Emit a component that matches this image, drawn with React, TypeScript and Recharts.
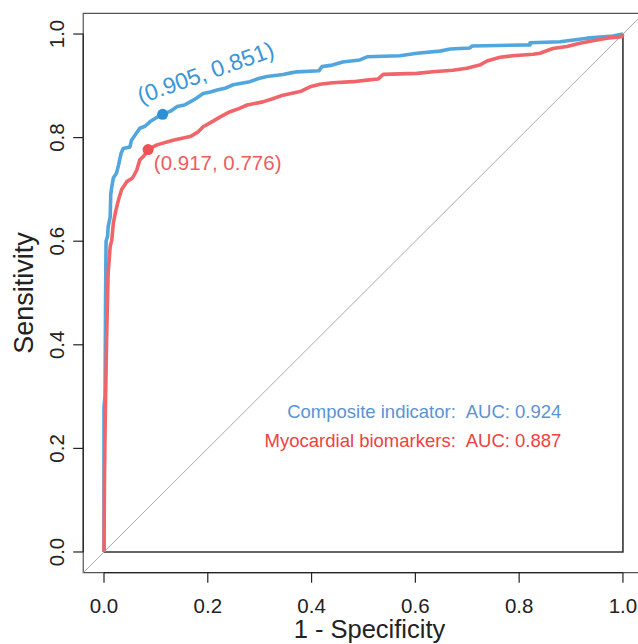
import React from "react";
import {
  ComposedChart,
  Line,
  XAxis,
  YAxis,
  ReferenceArea,
  ReferenceLine,
  ReferenceDot,
} from "recharts";

// ROC curve: [1 - specificity, sensitivity]
const compositeROC: [number, number][] = [
  [0, 0], [0, 0.28], [0.002, 0.3], [0.003, 0.49], [0.004, 0.6], [0.007, 0.61],
  [0.008, 0.628], [0.012, 0.647], [0.013, 0.69], [0.015, 0.705], [0.018, 0.722],
  [0.024, 0.731], [0.028, 0.747], [0.033, 0.77], [0.037, 0.779], [0.05, 0.782],
  [0.053, 0.795], [0.058, 0.802], [0.069, 0.818], [0.079, 0.822], [0.089, 0.831],
  [0.1, 0.838], [0.113, 0.845], [0.128, 0.851], [0.141, 0.86], [0.155, 0.863],
  [0.166, 0.869], [0.178, 0.876], [0.191, 0.885], [0.205, 0.888], [0.218, 0.892],
  [0.235, 0.896], [0.249, 0.902], [0.265, 0.905], [0.281, 0.908], [0.298, 0.914],
  [0.314, 0.918], [0.33, 0.92], [0.345, 0.922], [0.36, 0.925], [0.372, 0.927],
  [0.414, 0.929], [0.42, 0.937], [0.44, 0.94], [0.46, 0.946], [0.493, 0.95],
  [0.507, 0.956], [0.57, 0.958], [0.603, 0.963], [0.647, 0.967], [0.667, 0.971],
  [0.705, 0.973], [0.709, 0.977], [0.821, 0.979], [0.821, 0.983], [0.879, 0.985],
  [0.931, 0.992], [0.981, 0.996], [1, 1],
];

const biomarkerROC: [number, number][] = [
  [0, 0], [0.001, 0.15], [0.002, 0.23], [0.003, 0.293], [0.005, 0.409],
  [0.008, 0.539], [0.012, 0.59], [0.015, 0.602], [0.018, 0.635], [0.023, 0.66],
  [0.028, 0.68], [0.034, 0.7], [0.044, 0.715], [0.055, 0.722], [0.063, 0.737],
  [0.069, 0.757], [0.078, 0.766], [0.085, 0.777], [0.102, 0.786], [0.133, 0.795],
  [0.166, 0.802], [0.18, 0.81], [0.191, 0.821], [0.207, 0.83], [0.224, 0.84],
  [0.243, 0.85], [0.26, 0.856], [0.276, 0.863], [0.306, 0.869], [0.325, 0.875],
  [0.345, 0.882], [0.378, 0.889], [0.397, 0.898], [0.416, 0.903], [0.441, 0.906],
  [0.48, 0.908], [0.507, 0.911], [0.528, 0.913], [0.538, 0.922], [0.603, 0.924],
  [0.634, 0.927], [0.672, 0.93], [0.699, 0.934], [0.724, 0.94], [0.738, 0.948],
  [0.763, 0.955], [0.788, 0.958], [0.827, 0.961], [0.84, 0.963], [0.865, 0.972],
  [0.892, 0.976], [0.917, 0.982], [0.942, 0.987], [0.969, 0.992], [0.998, 0.995],
  [1, 1],
];

const optimalPoints = [
  { name: "Composite indicator", x: 0.113, y: 0.845, label: "(0.905, 0.851)" },
  { name: "Myocardial biomarkers", x: 0.085, y: 0.777, label: "(0.917, 0.776)" },
];
const aucLabels = ["Composite indicator:", "Myocardial biomarkers:"];
const aucValues = ["AUC: 0.924", "AUC: 0.887"];
const tickValues = [0, 0.2, 0.4, 0.6, 0.8, 1];
const diagonal = [
  { x: -0.04, y: -0.04 },
  { x: 1.04, y: 1.04 },
];
const frameL = [
  { x: 0, y: 0 },
  { x: 1, y: 0 },
  { x: 1, y: 1 },
];

const toRows = (arr: [number, number][]) => arr.map(([x, y]) => ({ x, y }));
const compositeData = toRows(compositeROC);
const biomarkerData = toRows(biomarkerROC);

const FONT = "'Liberation Sans', Arial, Helvetica, sans-serif";
const BLUE_LINE = "#52a6de";
const BLUE_DOT = "#2d8fd4";
const BLUE_TEXT = "#3a96d6";
const BLUE_LEG = "#5a93d4";
const RED_LINE = "#ef6569";
const RED_DOT = "#ee5254";
const RED_TEXT = "#ee5d5f";
const RED_LEG = "#ec4242";

const XTick = (props: any) => {
  const { x, payload } = props;
  return (
    <text x={x} y={613} textAnchor="middle" fontSize={20.5} fill="#222" fontFamily={FONT}>
      {Number(payload.value).toFixed(1)}
    </text>
  );
};

const YTick = (props: any) => {
  const { y, payload } = props;
  return (
    <text
      x={64}
      y={y}
      transform={`rotate(-90 64 ${y})`}
      textAnchor="middle"
      fontSize={20.5}
      fill="#222"
      fontFamily={FONT}
    >
      {Number(payload.value).toFixed(1)}
    </text>
  );
};

const textShape = (
  text: string,
  color: string,
  anchor: "start" | "end",
  size: number,
  rotate = 0
) => (p: any) => (
  <text
    x={p.cx}
    y={p.cy}
    textAnchor={anchor}
    fontSize={size}
    fill={color}
    fontFamily={FONT}
    transform={rotate ? `rotate(${rotate} ${p.cx} ${p.cy})` : undefined}
  >
    {text}
  </text>
);

export default function App() {
  return (
    <div
      style={{
        position: "fixed",
        left: 0,
        top: 0,
        width: 638,
        height: 644,
        overflow: "hidden",
        background: "#fff",
      }}
    >
      <ComposedChart
        width={700}
        height={644}
        margin={{ top: 13.3, right: 56.3, left: 0, bottom: 0 }}
      >
        <XAxis
          dataKey="x"
          type="number"
          domain={[-0.04, 1.04]}
          ticks={tickValues}
          allowDataOverflow
          axisLine={false}
          tickLine={{ stroke: "#222", strokeWidth: 1.2 }}
          tickSize={10}
          height={71.3}
          tick={<XTick />}
          interval={0}
          label={(p: any) => (
            <text
              x={p.viewBox.x + p.viewBox.width / 2 + 6}
              y={638}
              textAnchor="middle"
              fontSize={25.5}
              fill="#222"
              fontFamily={FONT}
            >
              1 - Specificity
            </text>
          )}
        />
        <YAxis
          dataKey="y"
          type="number"
          domain={[-0.04, 1.04]}
          ticks={tickValues}
          allowDataOverflow
          axisLine={false}
          tickLine={{ stroke: "#222", strokeWidth: 1.2 }}
          tickSize={10}
          width={83.24}
          tick={<YTick />}
          interval={0}
          label={(p: any) => {
            const cy = p.viewBox.y + p.viewBox.height / 2;
            return (
              <text
                x={33}
                y={cy}
                transform={`rotate(-90 33 ${cy})`}
                textAnchor="middle"
                fontSize={27}
                fill="#222"
                fontFamily={FONT}
              >
                Sensitivity
              </text>
            );
          }}
        />
        <ReferenceArea
          x1={-0.04}
          x2={1.04}
          y1={-0.04}
          y2={1.04}
          fill="none"
          stroke="#555"
          strokeWidth={1.2}
          ifOverflow="visible"
        />
        <ReferenceLine
          segment={[{ x: 0, y: -0.04 }, { x: 1, y: -0.04 }]}
          stroke="#222"
          strokeWidth={1.3}
          ifOverflow="visible"
        />
        <ReferenceLine
          segment={[{ x: -0.04, y: 0 }, { x: -0.04, y: 1 }]}
          stroke="#222"
          strokeWidth={1.3}
          ifOverflow="visible"
        />
        <Line
          data={diagonal}
          dataKey="y"
          type="linear"
          stroke="#aaaaaa"
          strokeWidth={1}
          dot={false}
          isAnimationActive={false}
        />
        <Line
          data={frameL}
          dataKey="y"
          type="linear"
          stroke="#333"
          strokeWidth={1.6}
          dot={false}
          isAnimationActive={false}
        />
        <Line
          data={compositeData}
          dataKey="y"
          type="linear"
          stroke={BLUE_LINE}
          strokeWidth={3.6}
          strokeLinejoin="round"
          dot={false}
          isAnimationActive={false}
        />
        <Line
          data={biomarkerData}
          dataKey="y"
          type="linear"
          stroke={RED_LINE}
          strokeWidth={3.6}
          strokeLinejoin="round"
          dot={false}
          isAnimationActive={false}
        />
        <ReferenceDot x={optimalPoints[0].x} y={optimalPoints[0].y} r={5.5} fill={BLUE_DOT} stroke="none" />
        <ReferenceDot x={optimalPoints[1].x} y={optimalPoints[1].y} r={5.5} fill={RED_DOT} stroke="none" />
        <ReferenceDot
          x={0.071}
          y={0.865}
          r={0}
          shape={textShape(optimalPoints[0].label, BLUE_TEXT, "start", 23, -19.5)}
        />
        <ReferenceDot
          x={0.096}
          y={0.737}
          r={0}
          shape={textShape(optimalPoints[1].label, RED_TEXT, "start", 20.5)}
        />
        <ReferenceDot x={0.678} y={0.259} r={0} shape={textShape(aucLabels[0], BLUE_LEG, "end", 18.5)} />
        <ReferenceDot x={0.697} y={0.259} r={0} shape={textShape(aucValues[0], BLUE_LEG, "start", 18.5)} />
        <ReferenceDot x={0.678} y={0.203} r={0} shape={textShape(aucLabels[1], RED_LEG, "end", 18.5)} />
        <ReferenceDot x={0.697} y={0.203} r={0} shape={textShape(aucValues[1], RED_LEG, "start", 18.5)} />
      </ComposedChart>
    </div>
  );
}
